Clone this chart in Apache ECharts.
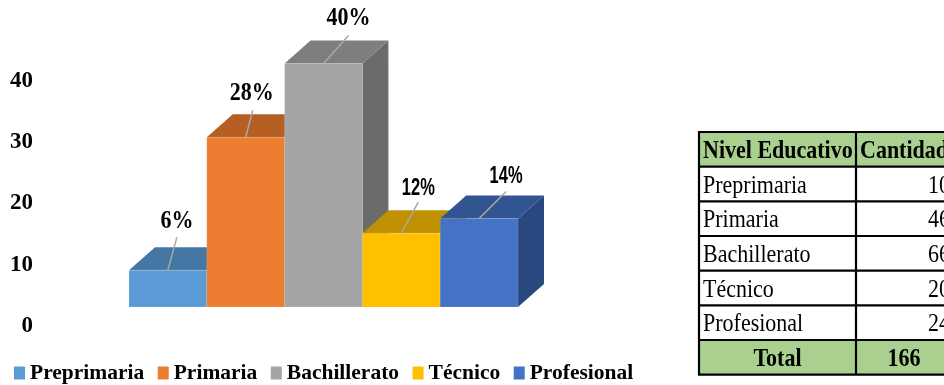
<!DOCTYPE html>
<html>
<head>
<meta charset="utf-8">
<style>html,body{margin:0;padding:0;background:#fff}#chart{width:944px;height:385px}</style>
<script src="https://cdn.jsdelivr.net/npm/echarts@6/dist/echarts.min.js"></script>
</head>
<body>
<div id="chart"></div>
<script>
// Education level shares and the counts they come from
const categories = ['Preprimaria', 'Primaria', 'Bachillerato', 'Técnico', 'Profesional'];
const sharePercent = [6.02, 27.71, 39.76, 12.05, 14.46];
const counts = [10, 46, 66, 20, 24];
const tableHeader = ['Nivel Educativo', 'Cantidad'];
const totalRow = ['Total', '166'];
const tickValues = [0, 10, 20, 30, 40];

// Box faces
const frontColors = ['#5B9BD5', '#ED7D31', '#A5A5A5', '#FFC000', '#4472C4'];
const topColors = ['#4677A3', '#B55F25', '#7E7E7E', '#BF9000', '#325592'];
const sideColors = ['#3D6A92', '#9C5220', '#6B6B6B', '#A67D00', '#2A4880'];

// Callout geometry relative to the middle of each box's front top edge
const leaderEnds = [[9, -33], [7, -27], [25, -28], [17, -31], [27, -27]];
const labelCentres = [[9, -49], [6, -44], [25, -45], [17, -45], [27, -42]];
const labelIsSans = [false, false, false, true, true];

const SERIF = '"Liberation Serif","Times New Roman",serif';
const SANS = '"Liberation Sans",Arial,sans-serif';
const DEPTH_X = 26, DEPTH_Y = 23;

function renderBox(params, api) {
  const i = api.value(0);
  const v = api.value(1);
  const w = api.size([1, 0])[0];
  const topMid = api.coord([i, v]);
  const baseMid = api.coord([i, 0]);
  const l = topMid[0] - w / 2, r = topMid[0] + w / 2, t = topMid[1], b = baseMid[1];
  const sans = labelIsSans[i];
  const children = [
    { type: 'polygon', shape: { points: [[r, t], [r + DEPTH_X, t - DEPTH_Y], [r + DEPTH_X, b - DEPTH_Y], [r, b]] },
      style: { fill: sideColors[i] } },
    { type: 'polygon', shape: { points: [[l, t], [r, t], [r + DEPTH_X, t - DEPTH_Y], [l + DEPTH_X, t - DEPTH_Y]] },
      style: { fill: topColors[i] } },
    { type: 'rect', shape: { x: l, y: t, width: r - l, height: b - t },
      style: { fill: frontColors[i], stroke: 'rgba(255,255,255,0.15)', lineWidth: 1 } },
    { type: 'line', shape: { x1: topMid[0], y1: t, x2: topMid[0] + leaderEnds[i][0], y2: t + leaderEnds[i][1] },
      style: { stroke: '#A9A9A9', lineWidth: 1.5 } },
    { type: 'text', x: topMid[0] + labelCentres[i][0], y: t + labelCentres[i][1],
      scaleX: sans ? 0.75 : 1, scaleY: sans ? 1.05 : 1.14,
      style: {
        text: Math.round(v) + '%',
        fill: '#000',
        align: 'center', verticalAlign: 'middle',
        font: sans ? 'bold 22px ' + SANS : 'bold 22px ' + SERIF
      } }
  ];
  return { type: 'group', children };
}

// Summary table drawn at the right of the chart, running past the canvas edge
function buildTable() {
  const colX = [699, 856, 952];
  const rowH = 34.67, top = 132;
  const rows = [tableHeader]
    .concat(categories.map((c, i) => [c, String(counts[i])]))
    .concat([totalRow]);
  const els = [];
  rows.forEach((row, r) => {
    const y = top + r * rowH;
    const bold = r === 0 || r === rows.length - 1;
    if (bold) {
      els.push({ type: 'rect', shape: { x: colX[0], y, width: colX[2] - colX[0], height: rowH },
        style: { fill: '#A9D08E' } });
    }
    const font = (bold ? 'bold ' : '') + '22px ' + SERIF;
    const mid = y + rowH / 2 + 2;
    const totalCell = r === rows.length - 1;
    const headerCell = r === 0;
    els.push({ type: 'text', x: totalCell ? (colX[0] + colX[1]) / 2 : colX[0] + 4, y: mid, scaleY: 1.14,
      style: { text: row[0], font, fill: '#000', align: totalCell ? 'center' : 'left', verticalAlign: 'middle' } });
    els.push({ type: 'text',
      x: totalCell ? (colX[1] + colX[2]) / 2 : headerCell ? colX[1] + 4 : colX[2] - 2, y: mid, scaleY: 1.14,
      style: { text: row[1], font, fill: '#000',
        align: totalCell ? 'center' : headerCell ? 'left' : 'right', verticalAlign: 'middle' } });
  });
  const rule = { stroke: '#000', lineWidth: 2.2 };
  for (let r = 0; r <= rows.length; r++) {
    const y = top + r * rowH;
    els.push({ type: 'line', shape: { x1: colX[0] - 1, y1: y, x2: colX[2], y2: y }, style: rule });
  }
  [colX[0], colX[1]].forEach(x => {
    els.push({ type: 'line', shape: { x1: x, y1: top, x2: x, y2: top + rows.length * rowH }, style: rule });
  });
  return els;
}

const chart = echarts.init(document.getElementById('chart'), null, { renderer: 'canvas' });
chart.setOption({
  animation: false,
  backgroundColor: '#fff',
  legend: {
    left: 14, top: 362, padding: 0,
    itemWidth: 11, itemHeight: 13, itemGap: 13.5,
    icon: 'rect',
    selectedMode: false,
    data: categories,
    textStyle: { fontFamily: SERIF, fontWeight: 'bold', fontSize: 21.5, color: '#000' }
  },
  grid: [
    { left: 129, width: 389, top: 62, height: 245 },
    { left: 40, width: 60, top: 81, height: 245 }
  ],
  xAxis: [
    { gridIndex: 0, type: 'category', data: categories, show: false },
    { gridIndex: 1, type: 'category', data: categories, show: false }
  ],
  yAxis: [
    { gridIndex: 0, type: 'value', min: 0, max: 40, show: false },
    { gridIndex: 1, type: 'value', min: tickValues[0], max: tickValues[tickValues.length - 1], interval: 10,
      axisLine: { show: false }, axisTick: { show: false }, splitLine: { show: false },
      axisLabel: { margin: 7, color: '#000', fontFamily: SERIF, fontWeight: 'bold', fontSize: 23 } }
  ],
  series: categories.map((name, i) => ({
    name,
    type: 'custom',
    xAxisIndex: 0, yAxisIndex: 0,
    coordinateSystem: 'cartesian2d',
    clip: false,
    silent: true,
    itemStyle: { color: frontColors[i] },
    encode: { x: 0, y: 1 },
    data: [[i, sharePercent[i]]],
    renderItem: renderBox
  })),
  graphic: { elements: buildTable() }
});
</script>
</body>
</html>
